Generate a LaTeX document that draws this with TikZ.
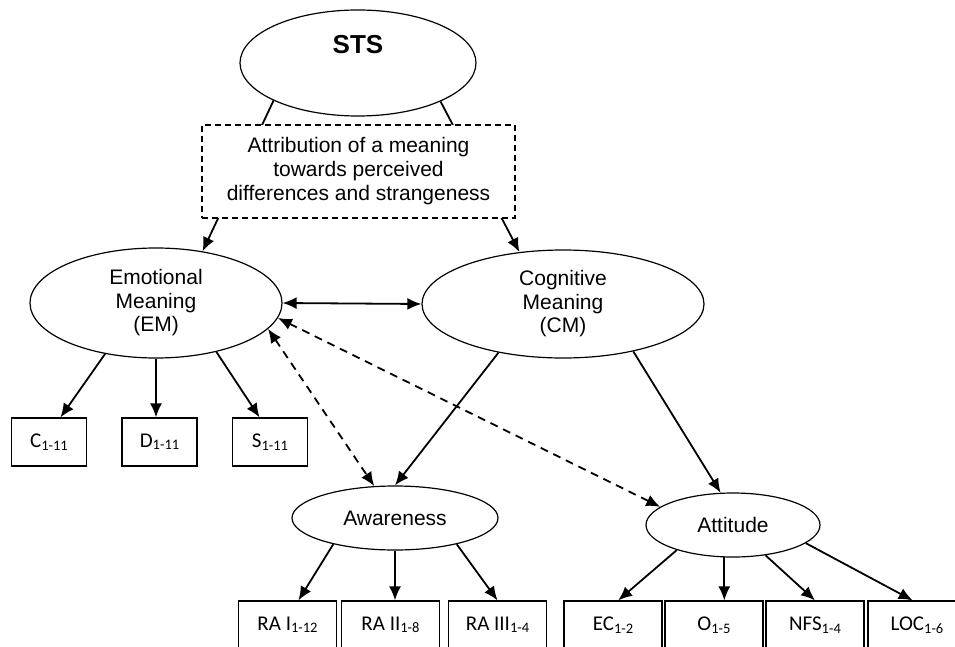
\documentclass[tikz,border=0pt]{standalone}
\usepackage{fontspec}
\setmainfont{Liberation Sans}
\newfontfamily\boxfont{Carlito}
\usepackage{tikz}
\usetikzlibrary{arrows.meta, shapes.geometric, positioning}
\newcommand{\subidx}[1]{\raisebox{-2.5pt}{\fontsize{14.5}{16}\selectfont #1}}

\begin{document}
\begin{tikzpicture}[x=1pt, y=-1pt, >={Latex[length=14pt,width=12pt]},
    latent/.style={draw, ellipse, line width=1.2pt, inner sep=0pt, align=center,
        font=\fontsize{21}{23.5}\selectfont},
    item/.style={draw, rectangle, line width=1.2pt, inner sep=0pt, minimum height=48pt,
        font=\boxfont\fontsize{21}{24}\selectfont},
    arr/.style={->, line width=1.8pt},
    cov/.style={<->, line width=1.8pt},
    dcov/.style={<->, line width=1.8pt, dash pattern=on 8pt off 6pt}]
    \useasboundingbox (0,0) rectangle (955,647);

    % Các biến tiềm ẩn
    \node[latent, minimum width=236pt, minimum height=106pt] (sts) at (358,63) {};
    \node[font=\fontsize{26}{28}\selectfont\bfseries] (ststext) at ([yshift=18pt]sts.center) {STS};
    \node[latent, minimum width=252pt, minimum height=110pt] (em) at (156,303)
        {Emotional\\Meaning\\(EM)};
    \node[latent, minimum width=282pt, minimum height=108pt] (cm) at (563,304)
        {Cognitive\\Meaning\\(CM)};
    \node[latent, minimum width=206pt, minimum height=64pt] (aw) at (395,518) {Awareness};
    \node[latent, minimum width=174pt, minimum height=64pt] (att) at (733,525) {Attitude};

    % Các biến quan sát
    \node[item, minimum width=75pt] (c) at (49,442) {C\subidx{1-11}};
    \node[item, minimum width=75pt] (d) at (159.5,442) {D\subidx{1-11}};
    \node[item, minimum width=75pt] (s) at (270,442) {S\subidx{1-11}};
    \node[item, minimum width=98pt] (ra1) at (287.5,625) {RA I\subidx{1-12}};
    \node[item, minimum width=98pt] (ra2) at (390.5,625) {RA II\subidx{1-8}};
    \node[item, minimum width=98pt] (ra3) at (497.5,625) {RA III\subidx{1-4}};
    \node[item, minimum width=98pt] (ec) at (613,625) {EC\subidx{1-2}};
    \node[item, minimum width=98pt] (o) at (714,625) {O\subidx{1-5}};
    \node[item, minimum width=98pt] (nfs) at (815,625) {NFS\subidx{1-4}};
    \node[item, minimum width=98pt] (loc) at (917,625) {LOC\subidx{1-6}};

    % STS -> EM, CM (nằm dưới khung)
    \draw[arr] (sts.204) -- (em.48);
    \draw[arr] (sts.335) -- (cm.130);
    \node[draw, dash pattern=on 6pt off 4pt, fill=white, line width=1.1pt, minimum width=313pt,
        minimum height=93pt, align=center, font=\fontsize{21}{24}\selectfont] (attr) at (358.5,171.5)
        {Attribution of a meaning\\towards perceived\\differences and strangeness};

    % Quan hệ giữa các biến
    \draw[cov] (em.east) -- (cm.west);
    \draw[dcov] (em.-13) -- (aw.123);
    \draw[dcov] (em.-7) -- (att.166);
    \draw[arr] (cm.217) -- (aw.north);
    \draw[arr] (cm.326) -- (att.111);

    % Tải nhân tố
    \draw[arr] (em.225) -- (c.65);
    \draw[arr] (em.south) -- (em.south |- d.north);
    \draw[arr] (em.321) -- (s.113);
    \draw[arr] (aw.203) -- (ra1.66);
    \draw[arr] (aw.south) -- (aw.south |- ra2.north);
    \draw[arr] (aw.337) -- (ra3.north);
    \draw[arr] (att.204) -- (ec.78);
    \draw[arr] (att.255) -- (att.255 |- o.north);
    \draw[arr] (att.317) -- (nfs.north);
    \draw[arr] (att.346) -- (loc.100);
\end{tikzpicture}
\end{document}
